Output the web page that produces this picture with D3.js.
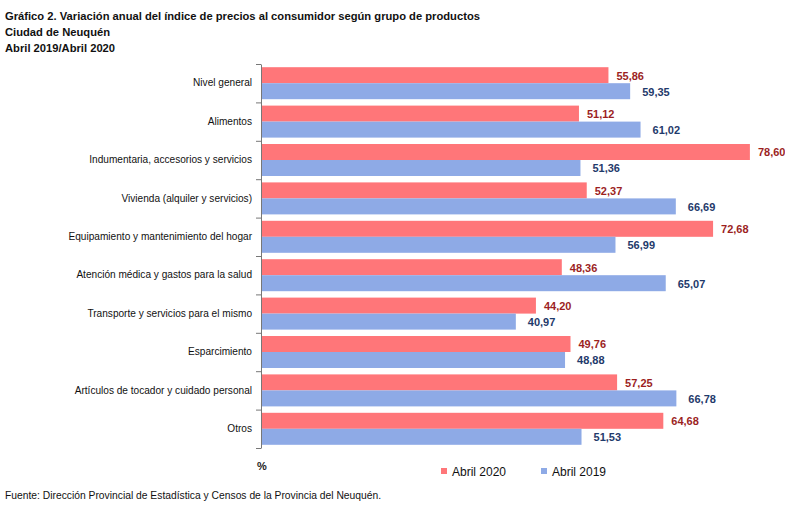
<!DOCTYPE html>
<html>
<head>
<meta charset="utf-8">
<script src="https://cdn.jsdelivr.net/npm/d3@7"></script>
<style>
  body { margin: 0; background: #fff; }
  text { font-family: "Liberation Sans", Arial, sans-serif; }
</style>
</head>
<body>
<svg id="chart" width="785" height="512"></svg>
<script>
// datos
const categorias = [
  "Nivel general",
  "Alimentos",
  "Indumentaria, accesorios y servicios",
  "Vivienda (alquiler y servicios)",
  "Equipamiento y mantenimiento del hogar",
  "Atención médica y gastos para la salud",
  "Transporte y servicios para el mismo",
  "Esparcimiento",
  "Artículos de tocador y cuidado personal",
  "Otros"
];
const abril2020 = [55.86, 51.12, 78.60, 52.37, 72.68, 48.36, 44.20, 49.76, 57.25, 64.68];
const abril2019 = [59.35, 61.02, 51.36, 66.69, 56.99, 65.07, 40.97, 48.88, 66.78, 51.53];
const series = ["Abril 2020", "Abril 2019"];
const titulos = [
  "Gráfico 2. Variación anual del índice de precios al consumidor según grupo de productos",
  "Ciudad de Neuquén",
  "Abril 2019/Abril 2020"
];

const colores = ["#ff7679", "#8eaae6"];
const coloresTexto = ["#9c1f1f", "#1f3a6b"];

const svg = d3.select("#chart");

const x0 = 261, yTop = 64, yBottom = 448;

const xScale = d3.scaleLinear()
  .domain([0, 80])
  .range([x0, x0 + 80 * 6.22]);

const yScale = d3.scaleBand()
  .domain(categorias)
  .range([yTop, yBottom]);

const ySub = d3.scaleBand()
  .domain(series)
  .range([0, yScale.bandwidth()])
  .paddingOuter(0.2);

const fmt = v => d3.format(".2f")(v).replace(".", ",");

// titulos
svg.selectAll("text.titulo")
  .data(titulos)
  .enter()
  .append("text")
  .attr("class", "titulo")
  .attr("x", 5)
  .attr("y", (d, i) => 20 + i * 16)
  .attr("font-size", 11.2)
  .attr("font-weight", "bold")
  .attr("fill", "#111")
  .text(d => d);

// barras
const filas = categorias.map((c, i) => ({ cat: c, vals: [abril2020[i], abril2019[i]] }));

const g = svg.selectAll("g.fila")
  .data(filas)
  .enter()
  .append("g")
  .attr("class", "fila")
  .attr("transform", d => "translate(0," + yScale(d.cat) + ")");

g.selectAll("rect")
  .data(d => d.vals.map((v, j) => ({ s: series[j], v: v, j: j })))
  .enter()
  .append("rect")
  .attr("x", xScale(0))
  .attr("y", d => ySub(d.s))
  .attr("width", d => xScale(d.v) - xScale(0))
  .attr("height", ySub.bandwidth())
  .attr("fill", d => colores[d.j]);

g.selectAll("text.valor")
  .data(d => d.vals.map((v, j) => ({ s: series[j], v: v, j: j })))
  .enter()
  .append("text")
  .attr("class", "valor")
  .attr("x", d => xScale(d.v) + (d.j == 0 ? 8 : 12))
  .attr("y", d => ySub(d.s) + ySub.bandwidth() / 2 + 4.5)
  .attr("font-size", 11)
  .attr("font-weight", "bold")
  .attr("fill", d => coloresTexto[d.j])
  .text(d => fmt(d.v));

// eje vertical
const yAxis = d3.axisLeft(yScale).tickSize(0).tickPadding(9).tickSizeOuter(0);
const ejeY = svg.append("g")
  .attr("transform", "translate(" + x0 + ",0)")
  .call(yAxis);
ejeY.select(".domain").attr("stroke", "#777");
ejeY.selectAll(".tick text")
  .attr("font-size", 10.1)
  .attr("fill", "#111")
  .attr("font-family", "'Liberation Sans', Arial, sans-serif");

// marcas entre categorias
const bordes = categorias.map(c => yScale(c)).concat([yBottom]);
svg.selectAll("line.borde")
  .data(bordes)
  .enter()
  .append("line")
  .attr("x1", x0 - 5)
  .attr("x2", x0)
  .attr("y1", d => d + 0.5)
  .attr("y2", d => d + 0.5)
  .attr("stroke", "#777");

svg.append("text")
  .attr("x", 257)
  .attr("y", 470)
  .attr("font-size", 11)
  .attr("font-weight", "bold")
  .attr("fill", "#222")
  .text("%");

// leyenda
const leyenda = svg.selectAll("g.leyenda")
  .data(series)
  .enter()
  .append("g")
  .attr("class", "leyenda")
  .attr("transform", (d, i) => "translate(" + (441 + i * 100) + ",468)");

leyenda.append("rect")
  .attr("width", 6)
  .attr("height", 6)
  .attr("fill", (d, i) => colores[i]);

leyenda.append("text")
  .attr("x", 11)
  .attr("y", 8)
  .attr("font-size", 12)
  .attr("fill", "#111")
  .text(d => d);

// fuente
svg.append("text")
  .attr("x", 5)
  .attr("y", 499)
  .attr("font-size", 10.3)
  .attr("fill", "#111")
  .text("Fuente: Dirección Provincial de Estadística y Censos de la Provincia del Neuquén.");
</script>
</body>
</html>
